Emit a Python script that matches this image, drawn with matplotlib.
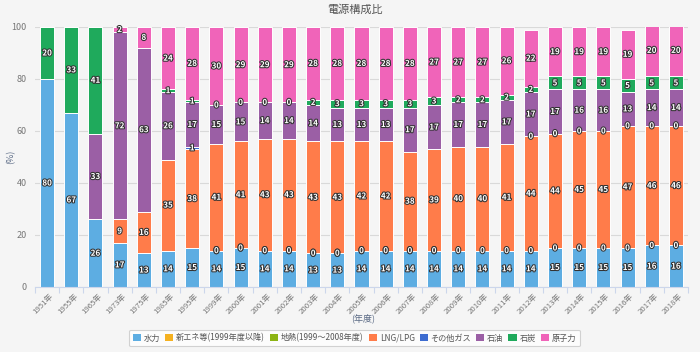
import matplotlib
matplotlib.use('Agg')
import matplotlib.pyplot as plt
import matplotlib.patheffects as pe
import numpy as np

plt.rcParams['font.family'] = ['Noto Sans CJK JP', 'DejaVu Sans']

# categories (fiscal years)
years = ['1951年', '1955年', '1965年', '1973年', '1975年', '1985年', '1995年', '1999年',
         '2000年', '2001年', '2002年', '2003年', '2004年', '2005年', '2006年', '2007年',
         '2008年', '2009年', '2010年', '2011年', '2012年', '2013年', '2014年', '2015年',
         '2016年', '2017年', '2018年']

N = None
# shares in % (None = no data for that year)
hydro = [80, 67, 26, 17, 13, 14, 15, 14,
         15, 14, 14, 13, 13, 14, 14, 14, 14, 14,
         14, 14, 14, 15, 15, 15, 15, 16, 16]
new_energy = [N, N, N, N, N, N, N, 0,
              0, 0, 0, 0, 0, 0, 0, 0, 0, 0,
              0, 0, 0, 0, 0, 0, 0, 0, 0]
geothermal = [N, N, N, N, N, N, N, 0,
              0, 0, 0, 0, 0, 0, 0, 0, 0, N,
              N, N, N, N, N, N, N, N, N]
lng = [N, N, N, 9, 16, 35, 38, 41,
       41, 43, 43, 43, 43, 42, 42, 38, 39, 40,
       40, 41, 44, 44, 45, 45, 47, 46, 46]
other_gas = [N, N, N, N, N, N, 1, N,
             N, N, N, N, N, N, N, N, N, N,
             N, N, 0, 0, 0, 0, 0, 0, 0]
oil = [N, N, 33, 72, 63, 26, 17, 15,
       15, 14, 14, 14, 13, 13, 13, 17, 17, 17,
       17, 17, 17, 17, 16, 16, 13, 14, 14]
coal = [20, 33, 41, N, N, 1, 1, 0,
        0, 0, 0, 2, 3, 3, 3, 3, 3, 2,
        2, 2, 2, 5, 5, 5, 5, 5, 5]
nuclear = [N, N, N, 2, 8, 24, 28, 30,
           29, 29, 29, 28, 28, 28, 28, 28, 27, 27,
           27, 26, 22, 19, 19, 19, 19, 20, 20]

names = ['水力', '新エネ等(1999年度以降)', '地熱(1999～2008年度)', 'LNG/LPG',
         'その他ガス', '石油', '石炭', '原子力']
series = [hydro, new_energy, geothermal, lng, other_gas, oil, coal, nuclear]
colors = ['#5dade2', '#f5b120', '#8cb414', '#ff7c4a', '#3d6cd0', '#9b5fa5', '#1faa5c', '#f064b9']

fig = plt.figure(figsize=(7, 3.52), dpi=100, facecolor='#f5f5f5')
ax = fig.add_axes([35 / 700, 1 - 287 / 352, 653 / 700, 260 / 352])
ax.set_facecolor('#f5f5f5')

x = np.arange(len(years))
bottom = np.zeros(len(years))
outline = [pe.withStroke(linewidth=1.5, foreground='#333333')]
handles = []
for vals, name, col in zip(series, names, colors):
    v = np.array([0 if a is None else a for a in vals], dtype=float)
    h = ax.bar(x, v, 0.58, bottom=bottom, color=col, edgecolor='white', linewidth=0.7, zorder=2)
    handles.append(h)
    for i, a in enumerate(vals):
        if a is None:
            continue
        yc = bottom[i] + a / 2
        if yc > 100:
            yc = (bottom[i] + 100) / 2
        ax.text(i, yc, f'{a:.0f}', ha='center', va='center', fontsize=5.8,
                color='white', fontweight='bold', path_effects=outline, zorder=4)
    bottom += v

ax.set_xlim(-0.5, len(years) - 0.5)
ax.set_ylim(0, 100)
ax.set_yticks(np.arange(0, 101, 20))
ax.yaxis.grid(True, color='#d9d9d9', linewidth=0.8, zorder=0)
ax.set_axisbelow(True)
for s in ['top', 'right', 'left']:
    ax.spines[s].set_visible(False)
ax.spines['bottom'].set_color('#ccd6eb')
ax.spines['bottom'].set_linewidth(0.8)

ax.set_xticks(x + 0.1)
ax.set_xticklabels(years, rotation=45, ha='right', rotation_mode='anchor',
                   fontsize=5.6, color='#777777')
ax.tick_params(axis='x', length=0, pad=4)
ax.set_xticks(np.arange(-0.5, len(years), 1), minor=True)
ax.tick_params(axis='x', which='minor', length=4, color='#ccd6eb', width=0.8)
ax.tick_params(axis='y', length=0, labelsize=6.5, labelcolor='#777777', pad=6)

fig.text(0.507, 0.972, '電源構成比', ha='center', va='center', fontsize=8, color='#555555')
fig.text(11 / 700, 1 - 157 / 352, '(%)', ha='center', va='center', rotation=90,
         fontsize=6.5, color='#5a6a85')
fig.text(363 / 700, 1 - 318 / 352, '(年度)', ha='center', va='center',
         fontsize=6.5, color='#5a6a85')

leg = fig.legend(handles, names, loc='center', bbox_to_anchor=(354.5 / 700, 1 - 338 / 352),
                 ncol=8, fontsize=5.9, frameon=True, fancybox=True, handlelength=1.0,
                 handleheight=1.0, handletextpad=0.35, columnspacing=0.6,
                 borderpad=0.45, labelcolor='#555555')
leg.get_frame().set_facecolor('white')
leg.get_frame().set_edgecolor('#c8c8c8')
leg.get_frame().set_linewidth(0.8)
for p in leg.get_patches():
    p.set_edgecolor('none')

fig.savefig('out.png', dpi=100, facecolor=fig.get_facecolor())
